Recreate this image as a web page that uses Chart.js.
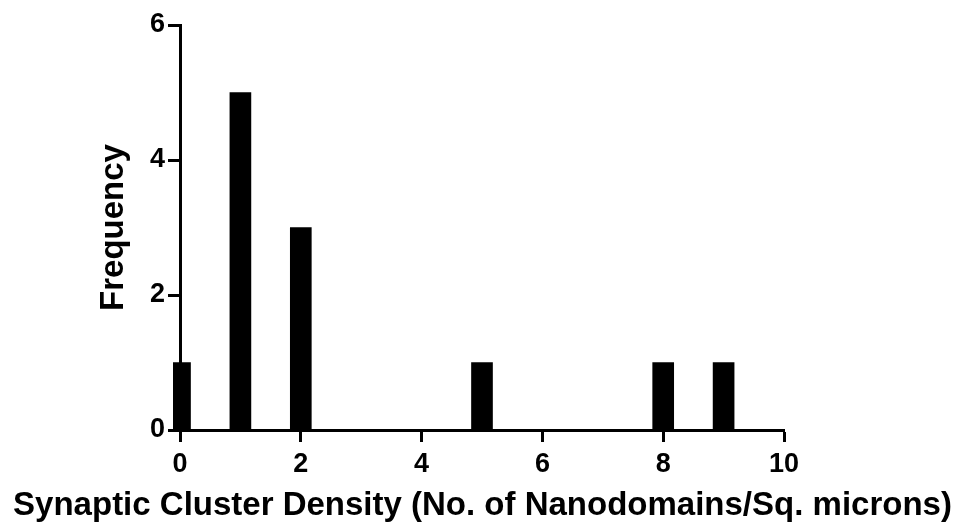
<!DOCTYPE html>
<html>
<head>
<meta charset="utf-8">
<script src="https://cdn.jsdelivr.net/npm/chart.js@4/dist/chart.umd.min.js"></script>
<style>
  html, body { margin: 0; padding: 0; background: #fff; }
</style>
</head>
<body>
<canvas id="densityChart" width="959" height="523"></canvas>
<script>
// histogram bins (cluster density) and counts
const binCenters = [0, 1, 2, 5, 8, 9];
const frequencies = [1, 5, 3, 1, 1, 1];
const xTickValues = [0, 2, 4, 6, 8, 10];
const yTickValues = [0, 2, 4, 6];

const xTitle = 'Synaptic Cluster Density (No. of Nanodomains/Sq. microns)';
const yTitle = 'Frequency';

const fontFamily = '"Liberation Sans", Arial, Helvetica, sans-serif';
const tickFont = { family: fontFamily, size: 27, weight: 'bold' };
const titleFont = { family: fontFamily, size: 33, weight: 'bold' };

// x title goes through the title plugin so it can run wider than the axis
const xTitlePadding = { top: 0, bottom: -3 };
const xTitleHeight = titleFont.size * 1.2 + xTitlePadding.top + xTitlePadding.bottom;
const padLeft = 6;
const plotBottom = 430;
const plotLeft = 180;
const plotRight = 784;

const axisGrid = {
  drawOnChartArea: false,
  drawTicks: true,
  offset: false,
  tickLength: 12,
  tickWidth: 3,
  tickColor: '#000'
};
const axisBorder = { display: true, color: '#000', width: 3 };

const ctx = document.getElementById('densityChart').getContext('2d');
new Chart(ctx, {
  type: 'bar',
  data: {
    datasets: [{
      data: binCenters.map((x, i) => ({ x: x, y: frequencies[i] })),
      backgroundColor: '#000',
      borderWidth: 0,
      barThickness: 21,
      clip: { left: 7, top: false, right: false, bottom: 0 }
    }]
  },
  options: {
    responsive: false,
    animation: false,
    devicePixelRatio: 1,
    layout: { padding: { left: padLeft, right: 0, top: 25, bottom: 0 } },
    plugins: {
      legend: { display: false },
      tooltip: { enabled: false },
      title: {
        display: true,
        position: 'bottom',
        text: xTitle,
        color: '#000',
        font: titleFont,
        padding: xTitlePadding
      }
    },
    scales: {
      x: {
        type: 'linear',
        min: 0,
        max: 10,
        offset: false,
        grid: axisGrid,
        border: axisBorder,
        afterBuildTicks: (scale) => { scale.ticks = xTickValues.map(v => ({ value: v })); },
        afterFit: (scale) => { scale.height = 523 - plotBottom - xTitleHeight; },
        ticks: { color: '#000', font: tickFont, padding: 6, maxRotation: 0 }
      },
      y: {
        min: 0,
        max: 6,
        grid: axisGrid,
        border: axisBorder,
        afterBuildTicks: (scale) => { scale.ticks = yTickValues.map(v => ({ value: v })); },
        afterFit: (scale) => { scale.width = plotLeft - padLeft; },
        ticks: { color: '#000', font: tickFont, padding: 3 },
        title: {
          display: true,
          text: yTitle,
          color: '#000',
          font: titleFont,
          padding: { top: 94 - padLeft, bottom: 0 }
        }
      },
      // empty right-hand spacer that keeps the plot area off the right edge
      yRight: {
        position: 'right',
        min: 0,
        max: 6,
        grid: { display: false },
        border: { display: false },
        ticks: { display: false },
        afterFit: (scale) => { scale.width = 959 - plotRight; }
      }
    }
  }
});
</script>
</body>
</html>
